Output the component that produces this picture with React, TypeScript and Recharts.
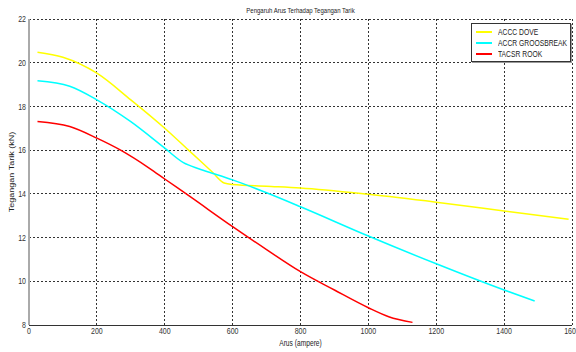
import React from "react"
import { LineChart, Line, XAxis, YAxis, CartesianGrid } from "recharts"

// data
const arusDove = [25, 100, 200, 300, 400, 470, 540, 575, 600, 700, 800, 1000, 1200, 1400, 1590]
const teganganDove = [20.48, 20.25, 19.52, 18.3, 17.0, 16.0, 15.0, 14.5, 14.43, 14.35, 14.27, 13.98, 13.62, 13.22, 12.84]

const arusGroosbreak = [25, 120, 200, 300, 400, 455, 500, 550, 600, 700, 800, 1000, 1200, 1400, 1490]
const teganganGroosbreak = [19.17, 18.92, 18.3, 17.3, 16.09, 15.43, 15.15, 14.9, 14.64, 14.05, 13.41, 12.07, 10.8, 9.6, 9.1]

const arusRook = [25, 120, 200, 270, 355, 400, 475, 600, 700, 800, 900, 1000, 1060, 1130]
const teganganRook = [17.31, 17.08, 16.55, 16.0, 15.17, 14.68, 13.87, 12.5, 11.45, 10.44, 9.6, 8.79, 8.38, 8.12]

const seriesKeys = ["dove", "groosbreak", "rook"]
const seriesNames = ["ACCC DOVE", "ACCR GROOSBREAK", "TACSR ROOK"]
const seriesColors = ["#ffff00", "#00ffff", "#ff0000"]

const xTicks = [0, 200, 400, 600, 800, 1000, 1200, 1400, 1600]
const yTicks = [8, 10, 12, 14, 16, 18, 20, 22]

const font = "'Liberation Sans', Arial, sans-serif"

// one table, keyed by arus; each series only fills its own rows
const sources: [string, number[], number[]][] = [
  ["dove", arusDove, teganganDove],
  ["groosbreak", arusGroosbreak, teganganGroosbreak],
  ["rook", arusRook, teganganRook],
]
const allArus = Array.from(new Set([...arusDove, ...arusGroosbreak, ...arusRook])).sort((a, b) => a - b)
const data = allArus.map((x) => {
  const row: any = { x }
  sources.forEach(([key, xs, ys]) => {
    const i = xs.indexOf(x)
    if (i >= 0) row[key] = ys[i]
  })
  return row
})

// the reference is squeezed horizontally, so text gets a scaleX
function XTick(props: any) {
  const { x, y, payload } = props
  return (
    <g transform={`translate(${x},${y - 5})`}>
      <text transform="scale(0.78,1)" textAnchor="middle" dy="0.71em" fontSize={9} fontFamily={font} fill="#333">
        {payload.value}
      </text>
    </g>
  )
}

function YTick(props: any) {
  const { x, y, payload } = props
  return (
    <g transform={`translate(${x + 5},${y})`}>
      <text transform="scale(0.78,1)" textAnchor="end" dy="0.35em" fontSize={9} fontFamily={font} fill="#333">
        {payload.value}
      </text>
    </g>
  )
}

const squeeze = (s: number): React.CSSProperties => ({ transform: `scaleX(${s})`, transformOrigin: "center" })

export default function App() {
  return (
    <div style={{ position: "absolute", left: 0, top: 0, width: 576, height: 352, background: "#fff", fontFamily: font, color: "#222" }}>
      <LineChart width={576} height={352} data={data} margin={{ top: 19, right: 4, bottom: 0, left: 0 }}>
        <CartesianGrid stroke="#333" strokeDasharray="2 2" shapeRendering="crispEdges" />
        <XAxis
          dataKey="x"
          type="number"
          domain={[0, 1600]}
          ticks={xTicks}
          interval={0}
          height={27}
          tickLine={false}
          axisLine={{ stroke: "#333", shapeRendering: "crispEdges" }}
          tick={<XTick />}
        />
        {/* top and right edges of the axes box */}
        <XAxis xAxisId="top" orientation="top" type="number" domain={[0, 1600]} ticks={xTicks} height={0} tick={false} tickLine={false} axisLine={{ stroke: "#333", shapeRendering: "crispEdges" }} />
        <YAxis
          type="number"
          domain={[8, 22]}
          ticks={yTicks}
          interval={0}
          width={29}
          tickLine={false}
          axisLine={{ stroke: "#aaa", strokeWidth: 2 }}
          tick={<YTick />}
        />
        <YAxis yAxisId="right" orientation="right" type="number" domain={[8, 22]} ticks={yTicks} width={0} tick={false} tickLine={false} axisLine={{ stroke: "#aaa", strokeWidth: 2 }} />
        {seriesKeys.map((k, i) => (
          <Line
            key={k}
            dataKey={k}
            name={seriesNames[i]}
            type="monotone"
            stroke={seriesColors[i]}
            strokeWidth={1.5}
            dot={false}
            connectNulls
            isAnimationActive={false}
          />
        ))}
      </LineChart>

      <div style={{ position: "absolute", left: 150, top: 5, width: 301, textAlign: "center", fontSize: 8, lineHeight: "12px", ...squeeze(0.75) }}>
        Pengaruh Arus Terhadap Tegangan Tarik
      </div>
      <div style={{ position: "absolute", left: 200, top: 337, width: 201, textAlign: "center", fontSize: 9, lineHeight: "12px", ...squeeze(0.74) }}>
        Arus (ampere)
      </div>
      <div style={{ position: "absolute", left: -88.5, top: 166, width: 200, height: 12, textAlign: "center", fontSize: 9, lineHeight: "12px", transform: "rotate(-90deg) scaleY(0.8)" }}>
        Tegangan Tarik (kN)
      </div>

      <div style={{ position: "absolute", left: 471, top: 23, width: 98, height: 37, border: "1px solid #333", background: "#fff", boxShadow: "1px 1px 0 #999" }}>
        {seriesNames.map((n, i) => (
          <div key={n} style={{ position: "absolute", left: 4, top: 2 + i * 11.3, height: 11, display: "flex", alignItems: "center", whiteSpace: "nowrap" }}>
            <span style={{ display: "inline-block", width: 16, height: 2, background: seriesColors[i] }} />
            <span style={{ display: "inline-block", fontSize: 9, marginLeft: 6, transform: "scaleX(0.75)", transformOrigin: "left center" }}>{n}</span>
          </div>
        ))}
      </div>
    </div>
  )
}
